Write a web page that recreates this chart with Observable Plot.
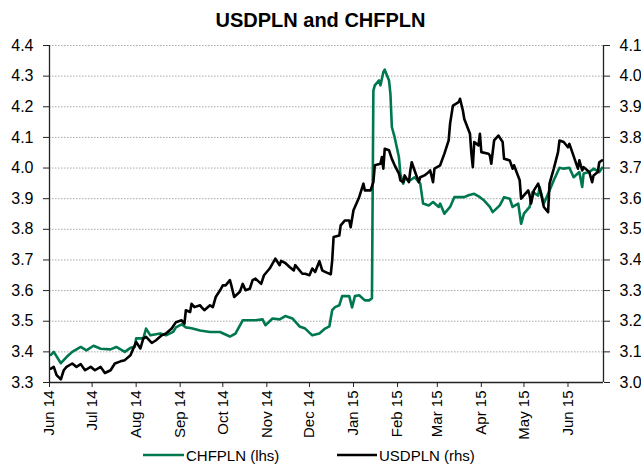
<!DOCTYPE html>
<html>
<head>
<meta charset="utf-8">
<script src="https://cdn.jsdelivr.net/npm/d3@7"></script>
<script src="https://cdn.jsdelivr.net/npm/@observablehq/plot@0.6"></script>
<style>
  html, body { margin: 0; padding: 0; background: #fff; }
  #chart svg { display: block; overflow: visible; }
</style>
</head>
<body>
<div id="chart"></div>
<script>
const chartTitle = "USDPLN and CHFPLN";
const seriesNames = ["CHFPLN (lhs)", "USDPLN (rhs)"];
const seriesColors = ["#00784e", "#000000"];

const chfDates = [
  "2014-06-02","2014-06-04","2014-06-09","2014-06-13","2014-06-17","2014-06-23","2014-06-27","2014-07-02","2014-07-07","2014-07-14",
  "2014-07-18","2014-07-24","2014-07-28","2014-07-31","2014-08-01","2014-08-06","2014-08-08","2014-08-11","2014-08-18","2014-08-22",
  "2014-08-27","2014-08-29","2014-09-02","2014-09-05","2014-09-09","2014-09-15","2014-09-22","2014-09-29","2014-10-06","2014-10-10",
  "2014-10-15","2014-10-24","2014-10-29","2014-10-31","2014-11-05","2014-11-10","2014-11-14","2014-11-19","2014-11-24","2014-11-28",
  "2014-12-03","2014-12-08","2014-12-12","2014-12-15","2014-12-17","2014-12-19","2014-12-22","2014-12-24","2014-12-29","2014-12-31",
  "2015-01-02","2015-01-05","2015-01-09","2015-01-12","2015-01-14","2015-01-15","2015-01-16","2015-01-19","2015-01-20","2015-01-22",
  "2015-01-23","2015-01-26","2015-01-27","2015-01-28","2015-01-30","2015-02-02","2015-02-03","2015-02-05","2015-02-06","2015-02-10",
  "2015-02-13","2015-02-17","2015-02-19","2015-02-23","2015-02-26","2015-03-02","2015-03-03","2015-03-06","2015-03-10","2015-03-13",
  "2015-03-17","2015-03-20","2015-03-23","2015-03-27","2015-03-31","2015-04-03","2015-04-07","2015-04-09","2015-04-14","2015-04-17",
  "2015-04-21","2015-04-23","2015-04-27","2015-04-29","2015-05-01","2015-05-05","2015-05-07","2015-05-11","2015-05-12","2015-05-15",
  "2015-05-19","2015-05-22","2015-05-26","2015-05-29","2015-06-02","2015-06-05","2015-06-09","2015-06-11","2015-06-12","2015-06-16",
  "2015-06-19","2015-06-23","2015-06-25"
];
const chfValues = [
  3.390,3.400,3.363,3.383,3.400,3.416,3.405,3.420,3.410,3.408,
  3.416,3.400,3.413,3.416,3.444,3.444,3.476,3.454,3.460,3.454,
  3.465,3.480,3.490,3.480,3.477,3.470,3.465,3.465,3.450,3.460,
  3.503,3.503,3.506,3.487,3.509,3.506,3.517,3.509,3.483,3.476,
  3.454,3.460,3.476,3.483,3.536,3.546,3.552,3.582,3.582,3.545,
  3.582,3.585,3.568,3.568,3.575,4.253,4.270,4.286,4.270,4.313,
  4.321,4.286,4.242,4.134,4.100,4.035,3.980,3.949,3.965,3.960,
  3.970,3.949,3.884,3.878,3.889,3.873,3.884,3.851,3.873,3.905,
  3.905,3.905,3.911,3.916,3.905,3.894,3.873,3.856,3.878,3.905,
  3.900,3.873,3.884,3.818,3.851,3.873,3.922,3.910,3.938,3.884,
  3.927,3.960,4.001,3.998,4.001,3.970,3.987,3.938,3.982,3.987,
  3.998,3.987,4.001
];

const usdDates = [
  "2014-06-02","2014-06-04","2014-06-06","2014-06-09","2014-06-11","2014-06-13","2014-06-17","2014-06-20","2014-06-23","2014-06-26",
  "2014-06-30","2014-07-03","2014-07-07","2014-07-10","2014-07-14","2014-07-17","2014-07-21","2014-07-24","2014-07-28","2014-07-30",
  "2014-08-01","2014-08-04","2014-08-06","2014-08-08","2014-08-12","2014-08-15","2014-08-19","2014-08-22","2014-08-26","2014-08-29",
  "2014-09-02","2014-09-04","2014-09-05","2014-09-08","2014-09-09","2014-09-11","2014-09-15","2014-09-16","2014-09-18","2014-09-22",
  "2014-09-24","2014-09-26","2014-09-29","2014-10-01","2014-10-03","2014-10-06","2014-10-07","2014-10-09","2014-10-13","2014-10-15",
  "2014-10-17","2014-10-20","2014-10-22","2014-10-24","2014-10-28","2014-10-30","2014-11-03","2014-11-05","2014-11-07","2014-11-10",
  "2014-11-11","2014-11-14","2014-11-17","2014-11-20","2014-11-21","2014-11-26","2014-11-28","2014-12-01","2014-12-03","2014-12-05",
  "2014-12-08","2014-12-10","2014-12-12","2014-12-16","2014-12-17","2014-12-18","2014-12-22","2014-12-23","2014-12-26","2014-12-29",
  "2014-12-30","2015-01-01","2015-01-02","2015-01-05","2015-01-08","2015-01-09","2015-01-13","2015-01-15","2015-01-16","2015-01-20",
  "2015-01-21","2015-01-22","2015-01-23","2015-01-26","2015-01-28","2015-01-30","2015-02-02","2015-02-03","2015-02-05","2015-02-06",
  "2015-02-09","2015-02-10","2015-02-11","2015-02-13","2015-02-16","2015-02-17","2015-02-20","2015-02-23","2015-02-24","2015-02-26",
  "2015-02-27","2015-03-03","2015-03-06","2015-03-09","2015-03-10","2015-03-12","2015-03-16","2015-03-17","2015-03-19","2015-03-20",
  "2015-03-24","2015-03-25","2015-03-26","2015-03-27","2015-03-30","2015-03-31","2015-04-01","2015-04-06","2015-04-07","2015-04-08",
  "2015-04-10","2015-04-13","2015-04-16","2015-04-17","2015-04-21","2015-04-23","2015-04-24","2015-04-28","2015-04-29","2015-05-04",
  "2015-05-05","2015-05-06","2015-05-08","2015-05-11","2015-05-13","2015-05-15","2015-05-18","2015-05-19","2015-05-22","2015-05-25",
  "2015-05-26","2015-05-29","2015-06-01","2015-06-02","2015-06-04","2015-06-08","2015-06-09","2015-06-11","2015-06-12","2015-06-16",
  "2015-06-18","2015-06-19","2015-06-22","2015-06-23","2015-06-25"
];
const usdValues = [
  3.045,3.051,3.024,3.010,3.040,3.051,3.062,3.051,3.060,3.040,
  3.051,3.040,3.051,3.031,3.040,3.062,3.069,3.073,3.089,3.111,
  3.132,3.111,3.143,3.149,3.129,3.138,3.154,3.160,3.176,3.197,
  3.203,3.192,3.236,3.230,3.257,3.246,3.252,3.246,3.236,3.252,
  3.246,3.279,3.300,3.317,3.317,3.334,3.317,3.279,3.296,3.322,
  3.301,3.306,3.334,3.339,3.322,3.350,3.372,3.388,3.404,3.383,
  3.397,3.390,3.377,3.366,3.383,3.355,3.355,3.350,3.372,3.361,
  3.396,3.366,3.361,3.353,3.398,3.475,3.480,3.513,3.529,3.529,
  3.507,3.562,3.573,3.605,3.649,3.627,3.627,3.654,3.709,3.714,
  3.736,3.698,3.763,3.758,3.730,3.709,3.682,3.660,3.654,3.676,
  3.654,3.692,3.719,3.692,3.654,3.670,3.676,3.687,3.692,3.654,
  3.698,3.709,3.747,3.790,3.845,3.904,3.915,3.926,3.888,3.860,
  3.812,3.747,3.703,3.785,3.774,3.812,3.752,3.747,3.741,3.714,
  3.790,3.806,3.785,3.730,3.725,3.698,3.709,3.660,3.600,3.627,
  3.611,3.584,3.627,3.649,3.616,3.573,3.556,3.649,3.698,3.752,
  3.790,3.785,3.768,3.779,3.752,3.698,3.725,3.692,3.703,3.687,
  3.654,3.676,3.687,3.719,3.725
];

const leftTicks = [3.3,3.4,3.5,3.6,3.7,3.8,3.9,4.0,4.1,4.2,4.3,4.4];
const leftTickLabels = ["3.3","3.4","3.5","3.6","3.7","3.8","3.9","4.0","4.1","4.2","4.3","4.4"];
const rightTickLabels = ["3.0","3.1","3.2","3.3","3.4","3.5","3.6","3.7","3.8","3.9","4.0","4.1"];
const rhsOffset = 0.3;

const monthTicks = ["2014-06-01","2014-07-01","2014-08-01","2014-09-01","2014-10-01","2014-11-01","2014-12-01",
  "2015-01-01","2015-02-01","2015-03-01","2015-04-01","2015-05-01","2015-06-01"];
const monthLabels = ["Jun 14","Jul 14","Aug 14","Sep 14","Oct 14","Nov 14","Dec 14",
  "Jan 15","Feb 15","Mar 15","Apr 15","May 15","Jun 15"];
const xStart = "2014-06-01", xEnd = "2015-06-26";

const chf = chfDates.map((d, i) => ({date: new Date(d), value: chfValues[i]}));
const usd = usdDates.map((d, i) => ({date: new Date(d), value: usdValues[i]}));
const monthTickDates = monthTicks.map(d => new Date(d));
const xDomain = [new Date(xStart), new Date(xEnd)];

const W = 641, H = 465;
const mt = 45, mb = 83, ml = 49, mr = 38;

const plot = Plot.plot({
  width: W, height: H,
  marginTop: mt, marginBottom: mb, marginLeft: ml, marginRight: mr,
  style: {fontFamily: "'Liberation Sans', Arial, sans-serif", color: "#000", background: "#fff"},
  x: {type: "utc", domain: xDomain},
  y: {domain: [3.3, 4.4]},
  marks: [
    Plot.ruleY(leftTicks.slice(1), {stroke: "#a8a8a8", strokeDasharray: "1.5,1.5", strokeWidth: 1}),
    Plot.lineY(chf, {x: "date", y: "value", stroke: seriesColors[0], strokeWidth: 2.6}),
    Plot.lineY(usd, {x: "date", y: d => d.value + rhsOffset, stroke: seriesColors[1], strokeWidth: 2.6}),
    Plot.ruleX(xDomain, {stroke: "#222", strokeWidth: 1.3}),
    Plot.ruleY([3.3], {stroke: "#222", strokeWidth: 1.3}),
    Plot.axisY({anchor: "left", ticks: leftTicks, tickFormat: d => leftTickLabels[leftTicks.indexOf(d)],
      tickSize: 6, tickPadding: 10, fontSize: 16, label: null, stroke: "#222"}),
    Plot.axisY({anchor: "right", ticks: leftTicks, tickFormat: d => rightTickLabels[leftTicks.indexOf(d)],
      tickSize: 6, tickPadding: 10, fontSize: 16, label: null, stroke: "#222"}),
    Plot.axisX({ticks: monthTickDates, tickFormat: d => monthLabels[monthTickDates.findIndex(t => +t === +d)],
      tickRotate: -90, tickSize: 5, tickPadding: 3, fontSize: 15, label: null, stroke: "#222"})
  ]
});

document.getElementById("chart").appendChild(plot);

const svg = d3.select(plot);
svg.append("text")
  .attr("x", 320.5).attr("y", 27)
  .attr("text-anchor", "middle")
  .attr("font-size", 20).attr("font-weight", "bold")
  .attr("fill", "#000")
  .text(chartTitle);

const legendItems = [
  {x0: 143, x1: 184, tx: 186},
  {x0: 337, x1: 377, tx: 379}
];
legendItems.forEach((it, i) => {
  svg.append("line")
    .attr("x1", it.x0).attr("x2", it.x1).attr("y1", 455).attr("y2", 455)
    .attr("stroke", seriesColors[i]).attr("stroke-width", 2.6);
  svg.append("text")
    .attr("x", it.tx).attr("y", 461)
    .attr("text-anchor", "start")
    .attr("font-size", 15).attr("fill", "#000")
    .text(seriesNames[i]);
});
</script>
</body>
</html>
